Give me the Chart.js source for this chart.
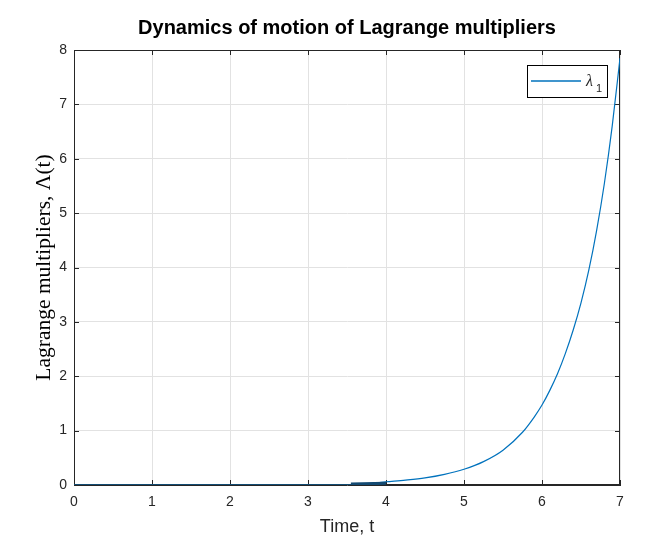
<!DOCTYPE html>
<html>
<head>
  <meta charset="UTF-8">
  <title>Dynamics of motion of Lagrange multipliers</title>
  <script src="https://cdn.jsdelivr.net/npm/chart.js"></script>
  <style>
    html, body { margin: 0; padding: 0; background: #fff; }
    #chart-container { width: 672px; height: 560px; }
  </style>
</head>
<body>
  <div id="chart-container">
    <canvas id="myChart"></canvas>
  </div>
  <script>
    // time points and lambda_1 values
    const times = [0, 1, 2, 3, 3.55, 4.0, 4.25, 4.5, 4.75, 5.0, 5.25, 5.5, 5.75, 5.9, 6.0, 6.1, 6.2, 6.3, 6.4, 6.5, 6.6, 6.7, 6.8, 6.9, 7.0];
    const lambda1 = [0, 0, 0, 0, 0, 0.06, 0.09, 0.13, 0.195, 0.29, 0.43, 0.64, 0.97, 1.25, 1.47, 1.74, 2.05, 2.42, 2.85, 3.35, 3.95, 4.68, 5.55, 6.6, 7.85];
    // short darker overlap drawn on the axis
    const overlapTimes = [3.55, 4.0];
    const overlapValues = [0.02, 0.03];
    const xTicks = [0, 1, 2, 3, 4, 5, 6, 7];
    const yTicks = [0, 1, 2, 3, 4, 5, 6, 7, 8];
    const seriesLabel = 'λ1';
    const chartTitle = 'Dynamics of motion of Lagrange multipliers';

    const lineColor = '#0072BD';
    const axisColor = '#262626';
    const gridColor = '#e2e2e2';

    // MATLAB style box, inward ticks, centred title and boxed legend
    const matlabFrame = {
      id: 'matlabFrame',
      beforeDatasetsDraw(chart) {
        const { ctx, chartArea: a, scales } = chart;
        ctx.save();
        ctx.strokeStyle = axisColor;
        ctx.lineWidth = 1;
        ctx.strokeRect(a.left + 0.5, a.top + 0.5, a.right - a.left - 1, a.bottom - a.top - 1);
        ctx.beginPath();
        xTicks.forEach(v => {
          const px = Math.round(scales.x.getPixelForValue(v)) + 0.5;
          ctx.moveTo(px, a.bottom); ctx.lineTo(px, a.bottom - 5);
          ctx.moveTo(px, a.top); ctx.lineTo(px, a.top + 5);
        });
        yTicks.forEach(v => {
          const py = Math.round(scales.y.getPixelForValue(v)) + 0.5;
          ctx.moveTo(a.left, py); ctx.lineTo(a.left + 5, py);
          ctx.moveTo(a.right, py); ctx.lineTo(a.right - 5, py);
        });
        ctx.stroke();
        ctx.restore();
      },
      afterDraw(chart) {
        const { ctx, chartArea: a } = chart;
        ctx.save();
        // title centred over the axes
        ctx.fillStyle = '#000';
        ctx.font = 'bold 20px "Liberation Sans"';
        ctx.textAlign = 'center';
        ctx.textBaseline = 'middle';
        ctx.fillText(chartTitle, (a.left + a.right) / 2, 28);

        // legend
        const bx = a.right - 93, by = a.top + 15, bw = 80, bh = 32;
        ctx.fillStyle = '#fff';
        ctx.fillRect(bx, by, bw, bh);
        ctx.strokeStyle = '#000';
        ctx.lineWidth = 1;
        ctx.strokeRect(bx + 0.5, by + 0.5, bw, bh);
        ctx.beginPath();
        ctx.strokeStyle = lineColor;
        ctx.lineWidth = 1.5;
        ctx.moveTo(bx + 4, by + 16);
        ctx.lineTo(bx + 54, by + 16);
        ctx.stroke();
        ctx.fillStyle = axisColor;
        ctx.textAlign = 'left';
        ctx.textBaseline = 'alphabetic';
        ctx.font = 'italic 16px "Liberation Serif"';
        ctx.fillText(seriesLabel.charAt(0), bx + 59, by + 21);
        ctx.font = '11px "Liberation Sans"';
        ctx.fillText(seriesLabel.slice(1), bx + 69, by + 27);
        ctx.restore();
      }
    };

    const config = {
      type: 'line',
      data: {
        datasets: [{
          label: seriesLabel,
          data: times.map((t, i) => ({ x: t, y: lambda1[i] })),
          borderColor: lineColor,
          borderWidth: 1.2,
          pointRadius: 0,
          cubicInterpolationMode: 'monotone',
          order: 2
        }, {
          label: 'overlap',
          data: overlapTimes.map((t, i) => ({ x: t, y: overlapValues[i] })),
          borderColor: '#134a72',
          borderWidth: 3,
          pointRadius: 0,
          order: 1
        }]
      },
      options: {
        responsive: true,
        maintainAspectRatio: false,
        animation: false,
        layout: { padding: { left: 0, right: 52, top: 50, bottom: 0 } },
        plugins: {
          legend: { display: false },
          tooltip: { enabled: false },
          title: { display: false }
        },
        scales: {
          x: {
            type: 'linear',
            min: 0,
            max: 7,
            afterBuildTicks: s => { s.ticks = xTicks.map(v => ({ value: v })); },
            afterFit: s => { s.height = 75; },
            ticks: {
              color: axisColor,
              font: { family: '"Liberation Sans"', size: 14 },
              padding: 9,
              maxRotation: 0
            },
            grid: { color: gridColor, drawTicks: false },
            border: { color: axisColor },
            title: {
              display: true,
              text: 'Time, t',
              color: axisColor,
              font: { family: '"Liberation Sans"', size: 18 },
              padding: { top: 0, bottom: 22 }
            }
          },
          y: {
            type: 'linear',
            min: 0,
            max: 8,
            afterBuildTicks: s => { s.ticks = yTicks.map(v => ({ value: v })); },
            afterFit: s => { s.width = 74; },
            ticks: {
              color: axisColor,
              font: { family: '"Liberation Sans"', size: 14 },
              padding: 7
            },
            grid: { color: gridColor, drawTicks: false },
            border: { color: axisColor },
            title: {
              display: true,
              text: 'Lagrange multipliers, Λ(t)',
              color: '#000',
              font: { family: '"Liberation Serif"', size: 21.5 },
              padding: { top: 31, bottom: 0 }
            }
          }
        }
      },
      plugins: [matlabFrame]
    };

    new Chart(document.getElementById('myChart'), config);
  </script>
</body>
</html>
